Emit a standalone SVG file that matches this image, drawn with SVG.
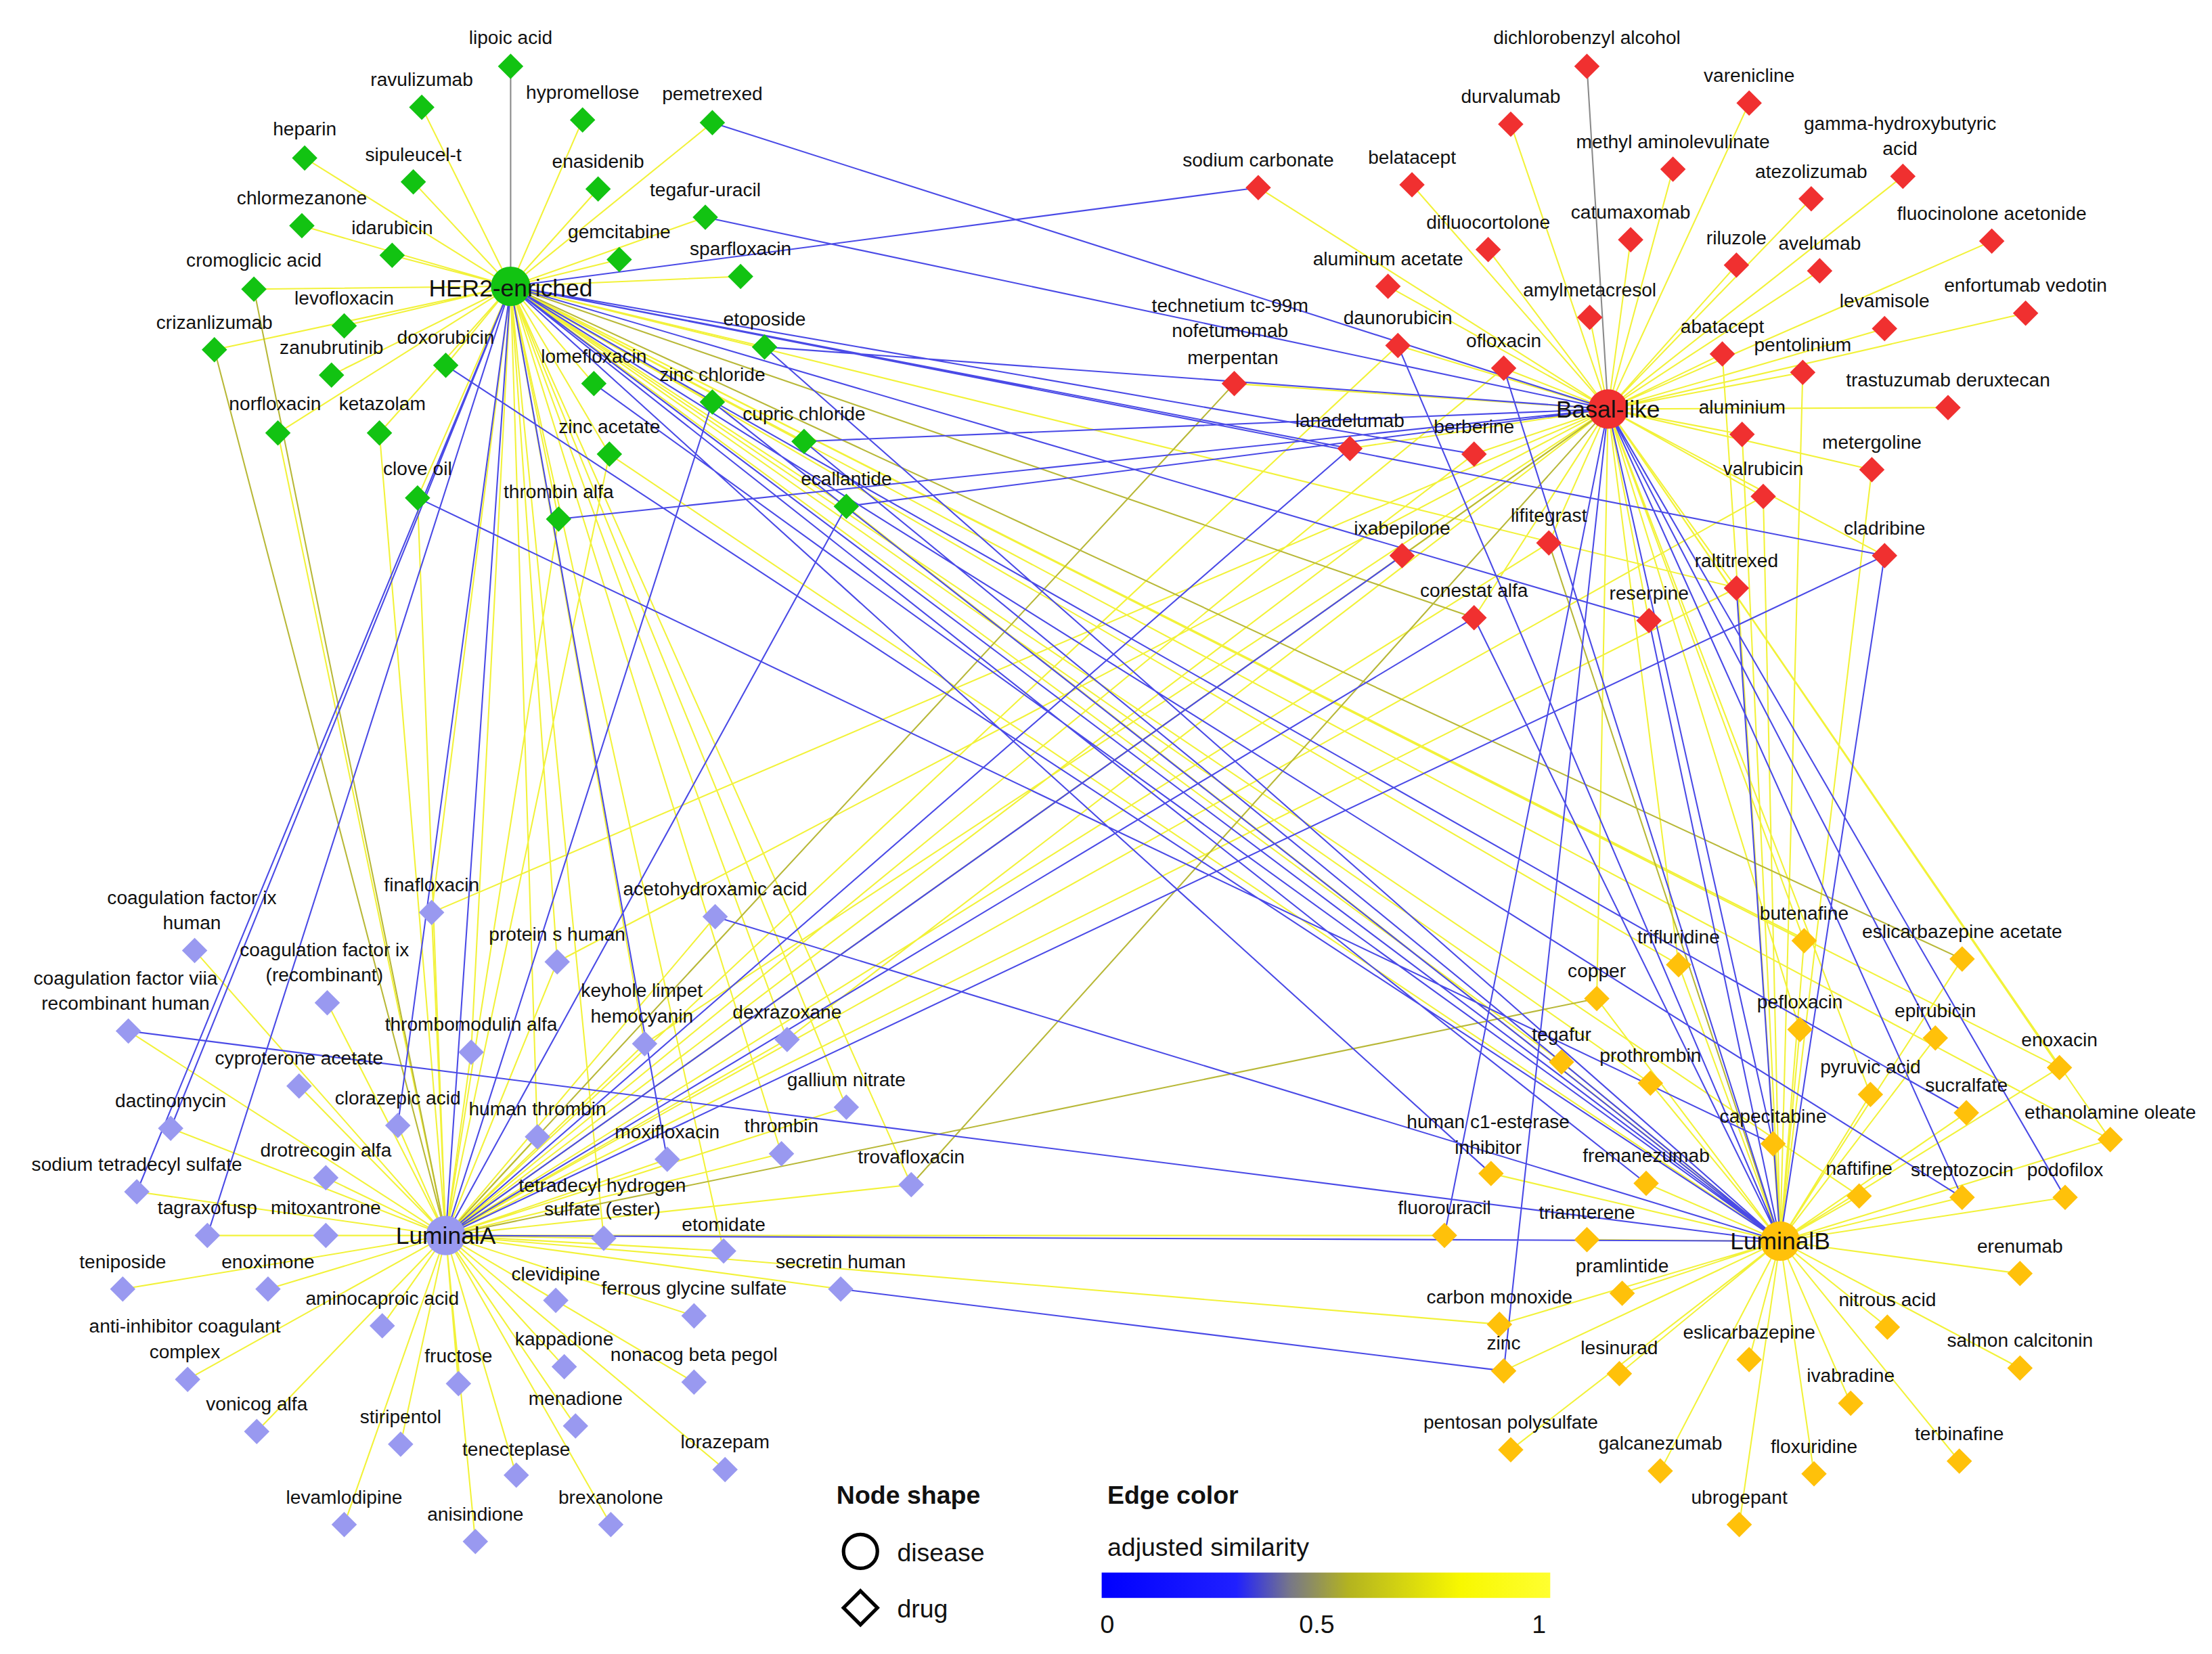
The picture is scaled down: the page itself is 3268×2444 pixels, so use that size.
<svg xmlns="http://www.w3.org/2000/svg" width="3268" height="2444" viewBox="0 0 3268 2444">
<style>
text{font-family:"Liberation Sans",Arial,sans-serif;font-size:13.5px;text-anchor:middle;fill:#111}
.dl{font-size:17px}
.b{font-weight:bold;font-size:18px;text-anchor:start}
.s{font-size:18px;text-anchor:start}
.e path{fill:none;stroke-width:1}
.y{stroke:#f2f23a}.bl{stroke:#4a4ae6}.g{stroke:#8a8a8a}.o{stroke:#b8b838}
.G{fill:#12c312}.R{fill:#f03030}.P{fill:#9999f0}.O{fill:#ffc10a}
</style>
<defs>
<path id="d" d="M0 -9L9 0L0 9L-9 0Z"/>
<linearGradient id="gr"><stop offset="0" stop-color="#0000ff"/><stop offset="0.3" stop-color="#2020ff"/><stop offset="0.42" stop-color="#777788"/><stop offset="0.55" stop-color="#b3b320"/><stop offset="0.8" stop-color="#f8f800"/><stop offset="1" stop-color="#ffff30"/></linearGradient>
</defs>
<rect width="3268" height="2444" fill="#fff"/>
<g transform="scale(2.084)">
<g id="connectors" class="e">
<path class="y" d="M362 203L299 76M362 203L413 85M362 203L505 87M362 203L216 112M362 203L293 129M362 203L424 134M362 203L500 154M362 203L214 160M362 203L278 181M362 203L439 184M362 203L525 196M362 203L180 205M362 203L244 231M362 203L152 248M362 203L235 266M362 203L316 259M362 203L542 246M362 203L421 272M362 203L505 285M362 203L197 307M362 203L269 307M362 203L570 313M362 203L432 322M362 203L296 353M362 203L600 359M362 203L396 368"/>
<path class="g" d="M362 203L362 47M1140 290L1125 47"/>
<path class="y" d="M1140 290L1240 73M1140 290L1071 88M1140 290L1349 125M1140 290L1186 120M1140 290L892 133M1140 290L1001 131M1140 290L1284 141M1140 290L1055 177M1140 290L1156 170M1140 290L1412 171M1140 290L1231 188M1140 290L1290 192M1140 290L984 203M1140 290L1127 225M1140 290L1436 222M1140 290L1336 233M1140 290L875 272M1140 290L991 245M1140 290L1221 251M1140 290L1066 261M1140 290L1278 264M1140 290L1381 289M1140 290L1235 308M1140 290L957 318M1140 290L1045 322M1140 290L1327 333M1140 290L1250 352M1140 290L994 394M1140 290L1098 385M1140 290L1336 394M1140 290L1231 417M1140 290L1045 438M1140 290L1169 440"/>
<path class="y" d="M316 876L306 647M316 876L507 650M316 876L138 674M316 876L395 682M316 876L232 711M316 876L91 731M316 876L457 740M316 876L558 737M316 876L334 746M316 876L212 770M316 876L121 800M316 876L282 798M316 876L381 806M316 876L600 785M316 876L473 822M316 876L554 818M316 876L231 835M316 876L97 845M316 876L646 840M316 876L428 878M316 876L147 876M316 876L231 876M316 876L513 887M316 876L87 914M316 876L190 914M316 876L394 922M316 876L596 914M316 876L271 940M316 876L492 933M316 876L133 978M316 876L400 969M316 876L492 980M316 876L325 981M316 876L182 1015M316 876L408 1011M316 876L284 1024M316 876L514 1042M316 876L366 1046M316 876L244 1081M316 876L433 1081M316 876L337 1093"/>
<path class="y" d="M1262 880L1279 667M1262 880L1391 680M1262 880L1190 684M1262 880L1132 708M1262 880L1276 730M1262 880L1372 736M1262 880L1460 757M1262 880L1107 753M1262 880L1170 768M1262 880L1326 776M1262 880L1394 789M1262 880L1496 808M1262 880L1257 811M1262 880L1057 832M1262 880L1167 839M1262 880L1318 848M1262 880L1391 849M1262 880L1464 849M1262 880L1125 879M1262 880L1432 903M1262 880L1150 917M1262 880L1063 939M1262 880L1338 941M1262 880L1240 964M1262 880L1066 972M1262 880L1148 974M1262 880L1432 970M1262 880L1312 995M1262 880L1071 1028M1262 880L1177 1043M1262 880L1286 1045M1262 880L1389 1036M1262 880L1233 1081"/>
<path class="y" d="M362 203L306 647M362 203L395 682M362 203L457 740M362 203L558 737M362 203L600 785M362 203L646 840M362 203L554 818M362 203L381 806M362 203L428 878M362 203L513 887M362 203L334 746M362 203L1279 667M362 203L1190 684M362 203L1107 753M362 203L1170 768M362 203L1460 757M362 203L1496 808M362 203L1318 848M316 876L1098 385M316 876L1231 417M316 876L1250 352M316 876L1045 322M316 876L1066 261M316 876L991 245M316 876L296 353M316 876L396 368M316 876L432 322M316 876L197 307M316 876L269 307M1140 290L306 647M1140 290L395 682M1140 290L457 740M1140 290L558 737M1140 290L1279 667M1140 290L1276 730M1140 290L1190 684M1140 290L1132 708M1140 290L1326 776M1262 880L1221 251M1262 880L1235 308M1262 880L1278 264M1262 880L1327 333M1262 880L1250 352M1262 880L600 359M1262 880L432 322M316 876L1024 876M316 876L1063 939M1140 290L1460 757M1140 290L1496 808M362 203L1232 417"/>
<path class="o" d="M316 876L1140 290M362 203L1045 438M1140 290L646 840M316 876L875 272M1262 880L1098 385M362 203L1391 680M316 876L1132 708M152 248L316 876M180 205L316 876"/>
<path class="bl" d="M505 87L1140 290M500 154L1140 290M892 133L362 203M362 203L957 318M362 203L1045 322M362 203L1169 440M362 203L1262 880M362 203L1391 849M362 203L1394 789M362 203L1167 839M362 203L1057 832M362 203L121 800M362 203L97 845M362 203L147 876M362 203L316 876M362 203L282 798M362 203L473 822M296 353L1257 811M91 731L1262 880M507 650L1262 880M596 914L1066 972M316 876L1262 880M316 876L994 394M316 876L957 318M316 876L600 359M316 876L505 285M1140 290L1024 876M1140 290L1257 811M1140 290L1391 849M1140 290L1464 849M1140 290L1372 736M1140 290L1066 972M1336 394L1262 880M1231 417L1262 880M1045 438L1262 880M1169 440L1262 880M1336 394L316 876M1262 880L505 285M1262 880L570 313M1262 880L421 272M1262 880L542 246M1262 880L316 259M1262 880L991 245M1262 880L1066 261M570 313L1140 290M542 246L1140 290M600 359L1140 290M396 368L1140 290M1045 438L316 876M362 203L1336 394"/>
</g>
<g id="disease-HER2"><circle cx="362" cy="203" r="14" class="G"/><text class="dl" x="362" y="210">HER2-enriched</text></g>
<g id="disease-Basal"><circle cx="1140" cy="290" r="14" class="R"/><text class="dl" x="1140" y="296">Basal-like</text></g>
<g id="disease-LumA"><circle cx="316" cy="876" r="14" class="P"/><text class="dl" x="316" y="882">LuminalA</text></g>
<g id="disease-LumB"><circle cx="1262" cy="880" r="14" class="O"/><text class="dl" x="1262" y="886">LuminalB</text></g>
<g id="green-drugs" class="G">
<g id="n-lipoic"><use href="#d" x="362" y="47"/><text x="362" y="31">lipoic acid</text></g>
<g id="n-ravulizumab"><use href="#d" x="299" y="76"/><text x="299" y="61">ravulizumab</text></g>
<g id="n-hypromellose"><use href="#d" x="413" y="85"/><text x="413" y="70">hypromellose</text></g>
<g id="n-pemetrexed"><use href="#d" x="505" y="87"/><text x="505" y="71">pemetrexed</text></g>
<g id="n-heparin"><use href="#d" x="216" y="112"/><text x="216" y="96">heparin</text></g>
<g id="n-sipuleucel"><use href="#d" x="293" y="129"/><text x="293" y="114">sipuleucel-t</text></g>
<g id="n-enasidenib"><use href="#d" x="424" y="134"/><text x="424" y="119">enasidenib</text></g>
<g id="n-tegafururacil"><use href="#d" x="500" y="154"/><text x="500" y="139">tegafur-uracil</text></g>
<g id="n-chlormezanone"><use href="#d" x="214" y="160"/><text x="214" y="145">chlormezanone</text></g>
<g id="n-idarubicin"><use href="#d" x="278" y="181"/><text x="278" y="166">idarubicin</text></g>
<g id="n-gemcitabine"><use href="#d" x="439" y="184"/><text x="439" y="169">gemcitabine</text></g>
<g id="n-sparfloxacin"><use href="#d" x="525" y="196"/><text x="525" y="181">sparfloxacin</text></g>
<g id="n-cromoglicic"><use href="#d" x="180" y="205"/><text x="180" y="189">cromoglicic acid</text></g>
<g id="n-levofloxacin"><use href="#d" x="244" y="231"/><text x="244" y="216">levofloxacin</text></g>
<g id="n-crizanlizumab"><use href="#d" x="152" y="248"/><text x="152" y="233">crizanlizumab</text></g>
<g id="n-zanubrutinib"><use href="#d" x="235" y="266"/><text x="235" y="251">zanubrutinib</text></g>
<g id="n-doxorubicin"><use href="#d" x="316" y="259"/><text x="316" y="244">doxorubicin</text></g>
<g id="n-etoposide"><use href="#d" x="542" y="246"/><text x="542" y="231">etoposide</text></g>
<g id="n-lomefloxacin"><use href="#d" x="421" y="272"/><text x="421" y="257">lomefloxacin</text></g>
<g id="n-zincchloride"><use href="#d" x="505" y="285"/><text x="505" y="270">zinc chloride</text></g>
<g id="n-norfloxacin"><use href="#d" x="197" y="307"/><text x="195" y="291">norfloxacin</text></g>
<g id="n-ketazolam"><use href="#d" x="269" y="307"/><text x="271" y="291">ketazolam</text></g>
<g id="n-cupric"><use href="#d" x="570" y="313"/><text x="570" y="298">cupric chloride</text></g>
<g id="n-zincacetate"><use href="#d" x="432" y="322"/><text x="432" y="307">zinc acetate</text></g>
<g id="n-clove"><use href="#d" x="296" y="353"/><text x="296" y="337">clove oil</text></g>
<g id="n-ecallantide"><use href="#d" x="600" y="359"/><text x="600" y="344">ecallantide</text></g>
<g id="n-thrombinalfa"><use href="#d" x="396" y="368"/><text x="396" y="353">thrombin alfa</text></g>
</g>
<g id="red-drugs" class="R">
<g id="n-dichlorobenzyl"><use href="#d" x="1125" y="47"/><text x="1125" y="31">dichlorobenzyl alcohol</text></g>
<g id="n-varenicline"><use href="#d" x="1240" y="73"/><text x="1240" y="58">varenicline</text></g>
<g id="n-durvalumab"><use href="#d" x="1071" y="88"/><text x="1071" y="73">durvalumab</text></g>
<g id="n-ghb"><use href="#d" x="1349" y="125"/><text x="1347" y="92">gamma-hydroxybutyric</text><text x="1347" y="110">acid</text></g>
<g id="n-methylamino"><use href="#d" x="1186" y="120"/><text x="1186" y="105">methyl aminolevulinate</text></g>
<g id="n-sodiumcarbonate"><use href="#d" x="892" y="133"/><text x="892" y="118">sodium carbonate</text></g>
<g id="n-belatacept"><use href="#d" x="1001" y="131"/><text x="1001" y="116">belatacept</text></g>
<g id="n-atezolizumab"><use href="#d" x="1284" y="141"/><text x="1284" y="126">atezolizumab</text></g>
<g id="n-difluocortolone"><use href="#d" x="1055" y="177"/><text x="1055" y="162">difluocortolone</text></g>
<g id="n-catumaxomab"><use href="#d" x="1156" y="170"/><text x="1156" y="155">catumaxomab</text></g>
<g id="n-fluocinolone"><use href="#d" x="1412" y="171"/><text x="1412" y="156">fluocinolone acetonide</text></g>
<g id="n-riluzole"><use href="#d" x="1231" y="188"/><text x="1231" y="173">riluzole</text></g>
<g id="n-avelumab"><use href="#d" x="1290" y="192"/><text x="1290" y="177">avelumab</text></g>
<g id="n-aluminumacetate"><use href="#d" x="984" y="203"/><text x="984" y="188">aluminum acetate</text></g>
<g id="n-amylmetacresol"><use href="#d" x="1127" y="225"/><text x="1127" y="210">amylmetacresol</text></g>
<g id="n-enfortumab"><use href="#d" x="1436" y="222"/><text x="1436" y="207">enfortumab vedotin</text></g>
<g id="n-levamisole"><use href="#d" x="1336" y="233"/><text x="1336" y="218">levamisole</text></g>
<g id="n-technetium"><use href="#d" x="875" y="272"/><text x="872" y="221">technetium tc-99m</text><text x="872" y="239">nofetumomab</text><text x="874" y="258">merpentan</text></g>
<g id="n-daunorubicin"><use href="#d" x="991" y="245"/><text x="991" y="230">daunorubicin</text></g>
<g id="n-abatacept"><use href="#d" x="1221" y="251"/><text x="1221" y="236">abatacept</text></g>
<g id="n-ofloxacin"><use href="#d" x="1066" y="261"/><text x="1066" y="246">ofloxacin</text></g>
<g id="n-pentolinium"><use href="#d" x="1278" y="264"/><text x="1278" y="249">pentolinium</text></g>
<g id="n-trastuzumab"><use href="#d" x="1381" y="289"/><text x="1381" y="274">trastuzumab deruxtecan</text></g>
<g id="n-aluminium"><use href="#d" x="1235" y="308"/><text x="1235" y="293">aluminium</text></g>
<g id="n-lanadelumab"><use href="#d" x="957" y="318"/><text x="957" y="303">lanadelumab</text></g>
<g id="n-berberine"><use href="#d" x="1045" y="322"/><text x="1045" y="307">berberine</text></g>
<g id="n-metergoline"><use href="#d" x="1327" y="333"/><text x="1327" y="318">metergoline</text></g>
<g id="n-valrubicin"><use href="#d" x="1250" y="352"/><text x="1250" y="337">valrubicin</text></g>
<g id="n-ixabepilone"><use href="#d" x="994" y="394"/><text x="994" y="379">ixabepilone</text></g>
<g id="n-lifitegrast"><use href="#d" x="1098" y="385"/><text x="1098" y="370">lifitegrast</text></g>
<g id="n-cladribine"><use href="#d" x="1336" y="394"/><text x="1336" y="379">cladribine</text></g>
<g id="n-raltitrexed"><use href="#d" x="1231" y="417"/><text x="1231" y="402">raltitrexed</text></g>
<g id="n-conestat"><use href="#d" x="1045" y="438"/><text x="1045" y="423">conestat alfa</text></g>
<g id="n-reserpine"><use href="#d" x="1169" y="440"/><text x="1169" y="425">reserpine</text></g>
</g>
<g id="purple-drugs" class="P">
<g id="n-finafloxacin"><use href="#d" x="306" y="647"/><text x="306" y="632">finafloxacin</text></g>
<g id="n-acetohydroxamic"><use href="#d" x="507" y="650"/><text x="507" y="635">acetohydroxamic acid</text></g>
<g id="n-cfixh"><use href="#d" x="138" y="674"/><text x="136" y="641">coagulation factor ix</text><text x="136" y="659">human</text></g>
<g id="n-proteins"><use href="#d" x="395" y="682"/><text x="395" y="667">protein s human</text></g>
<g id="n-cfixr"><use href="#d" x="232" y="711"/><text x="230" y="678">coagulation factor ix</text><text x="230" y="696">(recombinant)</text></g>
<g id="n-cfviia"><use href="#d" x="91" y="731"/><text x="89" y="698">coagulation factor viia</text><text x="89" y="716">recombinant human</text></g>
<g id="n-keyhole"><use href="#d" x="457" y="740"/><text x="455" y="707">keyhole limpet</text><text x="455" y="725">hemocyanin</text></g>
<g id="n-dexrazoxane"><use href="#d" x="558" y="737"/><text x="558" y="722">dexrazoxane</text></g>
<g id="n-thrombomodulin"><use href="#d" x="334" y="746"/><text x="334" y="731">thrombomodulin alfa</text></g>
<g id="n-cyproterone"><use href="#d" x="212" y="770"/><text x="212" y="755">cyproterone acetate</text></g>
<g id="n-dactinomycin"><use href="#d" x="121" y="800"/><text x="121" y="785">dactinomycin</text></g>
<g id="n-clorazepic"><use href="#d" x="282" y="798"/><text x="282" y="783">clorazepic acid</text></g>
<g id="n-humanthrombin"><use href="#d" x="381" y="806"/><text x="381" y="791">human thrombin</text></g>
<g id="n-gallium"><use href="#d" x="600" y="785"/><text x="600" y="770">gallium nitrate</text></g>
<g id="n-moxifloxacin"><use href="#d" x="473" y="822"/><text x="473" y="807">moxifloxacin</text></g>
<g id="n-thrombin"><use href="#d" x="554" y="818"/><text x="554" y="803">thrombin</text></g>
<g id="n-drotrecogin"><use href="#d" x="231" y="835"/><text x="231" y="820">drotrecogin alfa</text></g>
<g id="n-sts"><use href="#d" x="97" y="845"/><text x="97" y="830">sodium tetradecyl sulfate</text></g>
<g id="n-trovafloxacin"><use href="#d" x="646" y="840"/><text x="646" y="825">trovafloxacin</text></g>
<g id="n-tetradecyl"><use href="#d" x="428" y="878"/><text x="427" y="845">tetradecyl hydrogen</text><text x="427" y="862">sulfate (ester)</text></g>
<g id="n-tagraxofusp"><use href="#d" x="147" y="876"/><text x="147" y="861">tagraxofusp</text></g>
<g id="n-mitoxantrone"><use href="#d" x="231" y="876"/><text x="231" y="861">mitoxantrone</text></g>
<g id="n-etomidate"><use href="#d" x="513" y="887"/><text x="513" y="873">etomidate</text></g>
<g id="n-teniposide"><use href="#d" x="87" y="914"/><text x="87" y="899">teniposide</text></g>
<g id="n-enoximone"><use href="#d" x="190" y="914"/><text x="190" y="899">enoximone</text></g>
<g id="n-clevidipine"><use href="#d" x="394" y="922"/><text x="394" y="908">clevidipine</text></g>
<g id="n-secretin"><use href="#d" x="596" y="914"/><text x="596" y="899">secretin human</text></g>
<g id="n-aminocaproic"><use href="#d" x="271" y="940"/><text x="271" y="925">aminocaproic acid</text></g>
<g id="n-ferrous"><use href="#d" x="492" y="933"/><text x="492" y="918">ferrous glycine sulfate</text></g>
<g id="n-antiinhibitor"><use href="#d" x="133" y="978"/><text x="131" y="945">anti-inhibitor coagulant</text><text x="131" y="963">complex</text></g>
<g id="n-kappadione"><use href="#d" x="400" y="969"/><text x="400" y="954">kappadione</text></g>
<g id="n-nonacog"><use href="#d" x="492" y="980"/><text x="492" y="965">nonacog beta pegol</text></g>
<g id="n-fructose"><use href="#d" x="325" y="981"/><text x="325" y="966">fructose</text></g>
<g id="n-vonicog"><use href="#d" x="182" y="1015"/><text x="182" y="1000">vonicog alfa</text></g>
<g id="n-menadione"><use href="#d" x="408" y="1011"/><text x="408" y="996">menadione</text></g>
<g id="n-stiripentol"><use href="#d" x="284" y="1024"/><text x="284" y="1009">stiripentol</text></g>
<g id="n-lorazepam"><use href="#d" x="514" y="1042"/><text x="514" y="1027">lorazepam</text></g>
<g id="n-tenecteplase"><use href="#d" x="366" y="1046"/><text x="366" y="1032">tenecteplase</text></g>
<g id="n-levamlodipine"><use href="#d" x="244" y="1081"/><text x="244" y="1066">levamlodipine</text></g>
<g id="n-brexanolone"><use href="#d" x="433" y="1081"/><text x="433" y="1066">brexanolone</text></g>
<g id="n-anisindione"><use href="#d" x="337" y="1093"/><text x="337" y="1078">anisindione</text></g>
</g>
<g id="orange-drugs" class="O">
<g id="n-butenafine"><use href="#d" x="1279" y="667"/><text x="1279" y="652">butenafine</text></g>
<g id="n-eslicarbacet"><use href="#d" x="1391" y="680"/><text x="1391" y="665">eslicarbazepine acetate</text></g>
<g id="n-trifluridine"><use href="#d" x="1190" y="684"/><text x="1190" y="669">trifluridine</text></g>
<g id="n-copper"><use href="#d" x="1132" y="708"/><text x="1132" y="693">copper</text></g>
<g id="n-pefloxacin"><use href="#d" x="1276" y="730"/><text x="1276" y="715">pefloxacin</text></g>
<g id="n-epirubicin"><use href="#d" x="1372" y="736"/><text x="1372" y="721">epirubicin</text></g>
<g id="n-enoxacin"><use href="#d" x="1460" y="757"/><text x="1460" y="742">enoxacin</text></g>
<g id="n-tegafur"><use href="#d" x="1107" y="753"/><text x="1107" y="738">tegafur</text></g>
<g id="n-prothrombin"><use href="#d" x="1170" y="768"/><text x="1170" y="753">prothrombin</text></g>
<g id="n-pyruvic"><use href="#d" x="1326" y="776"/><text x="1326" y="761">pyruvic acid</text></g>
<g id="n-sucralfate"><use href="#d" x="1394" y="789"/><text x="1394" y="774">sucralfate</text></g>
<g id="n-ethanolamine"><use href="#d" x="1496" y="808"/><text x="1496" y="793">ethanolamine oleate</text></g>
<g id="n-capecitabine"><use href="#d" x="1257" y="811"/><text x="1257" y="796">capecitabine</text></g>
<g id="n-c1esterase"><use href="#d" x="1057" y="832"/><text x="1055" y="800">human c1-esterase</text><text x="1055" y="818">inhibitor</text></g>
<g id="n-fremanezumab"><use href="#d" x="1167" y="839"/><text x="1167" y="824">fremanezumab</text></g>
<g id="n-naftifine"><use href="#d" x="1318" y="848"/><text x="1318" y="833">naftifine</text></g>
<g id="n-streptozocin"><use href="#d" x="1391" y="849"/><text x="1391" y="834">streptozocin</text></g>
<g id="n-podofilox"><use href="#d" x="1464" y="849"/><text x="1464" y="834">podofilox</text></g>
<g id="n-fluorouracil"><use href="#d" x="1024" y="876"/><text x="1024" y="861">fluorouracil</text></g>
<g id="n-triamterene"><use href="#d" x="1125" y="879"/><text x="1125" y="864">triamterene</text></g>
<g id="n-erenumab"><use href="#d" x="1432" y="903"/><text x="1432" y="888">erenumab</text></g>
<g id="n-pramlintide"><use href="#d" x="1150" y="917"/><text x="1150" y="902">pramlintide</text></g>
<g id="n-carbonmonoxide"><use href="#d" x="1063" y="939"/><text x="1063" y="924">carbon monoxide</text></g>
<g id="n-nitrous"><use href="#d" x="1338" y="941"/><text x="1338" y="926">nitrous acid</text></g>
<g id="n-eslicarbazepine"><use href="#d" x="1240" y="964"/><text x="1240" y="949">eslicarbazepine</text></g>
<g id="n-zinc"><use href="#d" x="1066" y="972"/><text x="1066" y="957">zinc</text></g>
<g id="n-lesinurad"><use href="#d" x="1148" y="974"/><text x="1148" y="960">lesinurad</text></g>
<g id="n-salmon"><use href="#d" x="1432" y="970"/><text x="1432" y="955">salmon calcitonin</text></g>
<g id="n-ivabradine"><use href="#d" x="1312" y="995"/><text x="1312" y="980">ivabradine</text></g>
<g id="n-pentosan"><use href="#d" x="1071" y="1028"/><text x="1071" y="1013">pentosan polysulfate</text></g>
<g id="n-galcanezumab"><use href="#d" x="1177" y="1043"/><text x="1177" y="1028">galcanezumab</text></g>
<g id="n-floxuridine"><use href="#d" x="1286" y="1045"/><text x="1286" y="1030">floxuridine</text></g>
<g id="n-terbinafine"><use href="#d" x="1389" y="1036"/><text x="1389" y="1021">terbinafine</text></g>
<g id="n-ubrogepant"><use href="#d" x="1233" y="1081"/><text x="1233" y="1066">ubrogepant</text></g>
</g>
<g id="legend">
<text class="b" x="593" y="1066">Node shape</text>
<circle cx="610" cy="1100" r="12" fill="none" stroke="#000" stroke-width="2.5"/>
<text class="s" x="636" y="1107">disease</text>
<path d="M610 1128L622 1140L610 1152L598 1140Z" fill="none" stroke="#000" stroke-width="2.5"/>
<text class="s" x="636" y="1147">drug</text>
<text class="b" x="785" y="1066">Edge color</text>
<text class="s" x="785" y="1103">adjusted similarity</text>
<rect x="781" y="1115" width="318" height="18" fill="url(#gr)"/>
<text class="s" x="780" y="1158">0</text>
<text class="s" x="921" y="1158">0.5</text>
<text class="s" x="1086" y="1158">1</text>
</g>
</g>
</svg>
